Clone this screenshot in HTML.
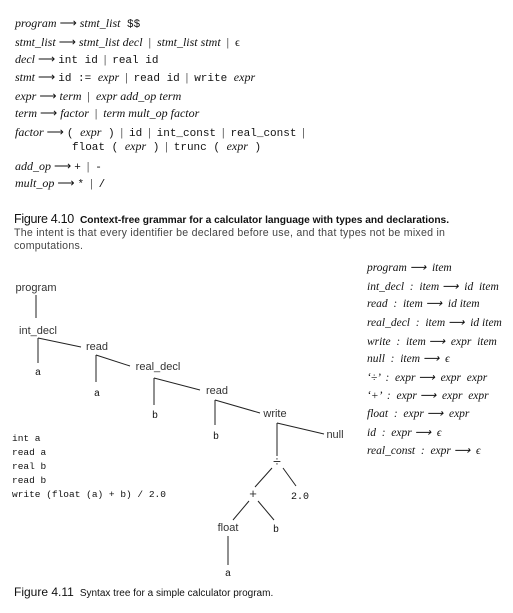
<!DOCTYPE html>
<html><head><meta charset="utf-8"><style>
body{margin:0;background:#fff;width:513px;height:613px;overflow:hidden}
svg{display:block}
text{white-space:pre}
.i{font-family:"Liberation Serif",serif;font-style:italic;font-size:12px}
.m{font-family:"Liberation Mono",monospace;font-size:11px}
.s{font-family:"Liberation Sans",sans-serif;font-size:11px;fill:#333}
.c{font-family:"Liberation Sans",sans-serif;font-size:10.5px}
.n{font-family:"Liberation Serif",serif;font-size:12px}
.code text{font-family:"Liberation Mono",monospace;font-size:9.5px}
.tm text{font-family:"Liberation Mono",monospace;font-size:10px}
.rc text{font-family:"Liberation Serif",serif;font-style:italic;font-size:11.5px}
line{stroke:#222;stroke-width:1}
</style></head><body>
<svg width="513" height="613" viewBox="0 0 513 613" xmlns="http://www.w3.org/2000/svg" xml:space="preserve">
<g fill="#111">
<text x="15" y="27"><tspan class="i">program</tspan><tspan class="n"> ⟶ </tspan><tspan class="i">stmt_list</tspan><tspan class="m"> $$</tspan></text>
<text x="15" y="46"><tspan class="i">stmt_list</tspan><tspan class="n"> ⟶ </tspan><tspan class="i">stmt_list decl</tspan><tspan class="n">  |  </tspan><tspan class="i">stmt_list stmt</tspan><tspan class="n">  |  ϵ</tspan></text>
<text x="15" y="63"><tspan class="i">decl</tspan><tspan class="n"> ⟶ </tspan><tspan class="m">int id</tspan><tspan class="n">  |  </tspan><tspan class="m">real id</tspan></text>
<text x="15" y="81"><tspan class="i">stmt</tspan><tspan class="n"> ⟶ </tspan><tspan class="m">id := </tspan><tspan class="i">expr</tspan><tspan class="n">  |  </tspan><tspan class="m">read id</tspan><tspan class="n">  |  </tspan><tspan class="m">write </tspan><tspan class="i">expr</tspan></text>
<text x="15" y="100"><tspan class="i">expr</tspan><tspan class="n"> ⟶ </tspan><tspan class="i">term</tspan><tspan class="n">  |  </tspan><tspan class="i">expr add_op term</tspan></text>
<text x="15" y="117"><tspan class="i">term</tspan><tspan class="n"> ⟶ </tspan><tspan class="i">factor</tspan><tspan class="n">  |  </tspan><tspan class="i">term mult_op factor</tspan></text>
<text x="15" y="136"><tspan class="i">factor</tspan><tspan class="n"> ⟶ </tspan><tspan class="m">( </tspan><tspan class="i">expr</tspan><tspan class="m"> )</tspan><tspan class="n">  |  </tspan><tspan class="m">id</tspan><tspan class="n">  |  </tspan><tspan class="m">int_const</tspan><tspan class="n">  |  </tspan><tspan class="m">real_const</tspan><tspan class="n">  |</tspan></text>
<text x="72" y="150"><tspan class="m">float ( </tspan><tspan class="i">expr</tspan><tspan class="m"> )</tspan><tspan class="n">  |  </tspan><tspan class="m">trunc ( </tspan><tspan class="i">expr</tspan><tspan class="m"> )</tspan></text>
<text x="15" y="170"><tspan class="i">add_op</tspan><tspan class="n"> ⟶ </tspan><tspan class="m">+</tspan><tspan class="n">  |  </tspan><tspan class="m">-</tspan></text>
<text x="15" y="187"><tspan class="i">mult_op</tspan><tspan class="n"> ⟶ </tspan><tspan class="m">*</tspan><tspan class="n">  |  </tspan><tspan class="m">/</tspan></text>

<text x="14" y="223" class="c"><tspan style="font-size:12.5px;letter-spacing:-0.3px">Figure 4.10</tspan><tspan font-weight="bold" dx="6" style="font-size:10.2px">Context-free grammar for a calculator language with types and declarations.</tspan></text>
<text x="14" y="236" style="font-family:'Liberation Sans',sans-serif;font-size:10.6px;letter-spacing:0.25px;fill:#444">The intent is that every identifier be declared before use, and that types not be mixed in</text>
<text x="14" y="249" style="font-family:'Liberation Sans',sans-serif;font-size:10.6px;letter-spacing:0.25px;fill:#444">computations.</text>

<g class="s" text-anchor="middle">
<text x="36" y="291">program</text>
<text x="38" y="334">int_decl</text>
<text x="97" y="350">read</text>
<text x="158" y="370">real_decl</text>
<text x="217" y="394">read</text>
<text x="275" y="417">write</text>
<text x="335" y="438">null</text>
<text x="277" y="466" style="font-size:14px">÷</text>
<text x="253" y="498" style="font-size:13px">+</text>
<text x="228" y="531">float</text>
</g>
<g class="tm" text-anchor="middle">
<text x="38" y="375">a</text>
<text x="97" y="396">a</text>
<text x="155" y="418">b</text>
<text x="216" y="439">b</text>
<text x="300" y="499">2.0</text>
<text x="276" y="532">b</text>
<text x="228" y="576">a</text>
</g>
<line x1="36" y1="295" x2="36" y2="318"/>
<line x1="38" y1="338" x2="38" y2="363"/><line x1="38" y1="338" x2="81" y2="347"/>
<line x1="96" y1="355" x2="96" y2="382"/><line x1="96" y1="355" x2="130" y2="366"/>
<line x1="154" y1="378" x2="154" y2="405"/><line x1="154" y1="378" x2="200" y2="390"/>
<line x1="215" y1="400" x2="215" y2="425"/><line x1="215" y1="400" x2="260" y2="413"/>
<line x1="277" y1="423" x2="277" y2="456"/><line x1="277" y1="423" x2="324" y2="434"/>
<line x1="272" y1="468" x2="255" y2="487"/><line x1="283" y1="468" x2="296" y2="486"/>
<line x1="249" y1="501" x2="233" y2="520"/><line x1="258" y1="501" x2="274" y2="520"/>
<line x1="228" y1="536" x2="228" y2="565"/>

<g class="code">
<text x="12" y="441">int a</text>
<text x="12" y="455">read a</text>
<text x="12" y="469">real b</text>
<text x="12" y="483">read b</text>
<text x="12" y="497">write (float (a) + b) / 2.0</text>
</g>

<g class="rc">
<text x="367" y="271">program ⟶  item</text>
<text x="367" y="290">int_decl  :  item ⟶  id  item</text>
<text x="367" y="307">read  :  item ⟶  id item</text>
<text x="367" y="326">real_decl  :  item ⟶  id item</text>
<text x="367" y="345">write  :  item ⟶  expr  item</text>
<text x="367" y="362">null  :  item ⟶  ϵ</text>
<text x="367" y="381">‘÷’  :  expr ⟶  expr  expr</text>
<text x="367" y="399">‘+’  :  expr ⟶  expr  expr</text>
<text x="367" y="417">float  :  expr ⟶  expr</text>
<text x="367" y="436">id  :  expr ⟶  ϵ</text>
<text x="367" y="454">real_const  :  expr ⟶  ϵ</text>
</g>

<text x="14" y="596" class="c"><tspan style="font-size:12px">Figure 4.11</tspan><tspan dx="6" style="font-size:10px">Syntax tree for a simple calculator program.</tspan></text>
</g>
</svg>
</body></html>
